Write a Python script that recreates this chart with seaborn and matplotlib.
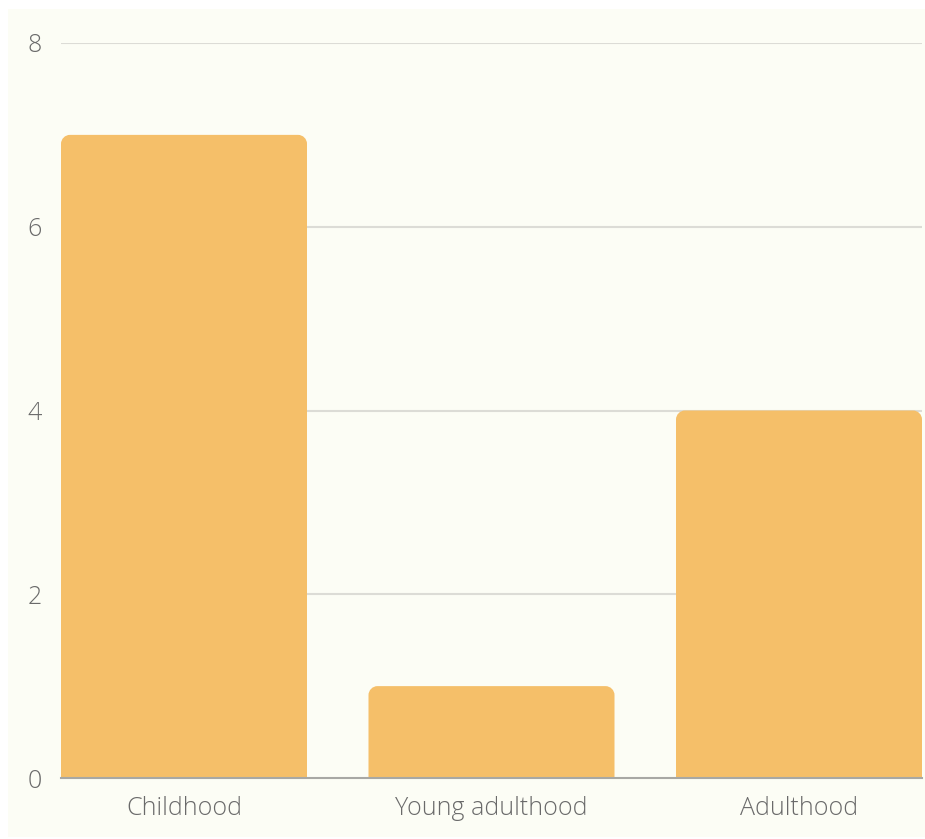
import matplotlib
matplotlib.use("Agg")
import matplotlib.pyplot as plt
import seaborn as sns
import pandas as pd
import numpy as np
from matplotlib.path import Path
from matplotlib.patches import PathPatch, Rectangle

categories = ["Childhood", "Young adulthood", "Adulthood"]
values = [7, 1, 4]
yticks = [0, 2, 4, 6, 8]

sns.set_theme(style="white")
plt.rcParams['font.family'] = ['Open Sans', 'DejaVu Sans']

W, H = 925, 839
fig = plt.figure(figsize=(W / 100, H / 100), dpi=100, facecolor="white")
bg = "#fcfdf5"
fig.patches.append(Rectangle((8 / W, 1 - 837 / H), (W - 8) / W, (837 - 9) / H,
                             transform=fig.transFigure, facecolor=bg, edgecolor="none", zorder=-10))

left, right, top, bottom = 61, 922, 43, 778
ax = fig.add_axes([left / W, 1 - bottom / H, (right - left) / W, (bottom - top) / H])
ax.set_facecolor("none")

df = pd.DataFrame({"stage": categories, "count": values})
sns.barplot(data=df, x="stage", y="count", color="#f5bf69", saturation=1, width=0.8, ax=ax, zorder=3)

ax.set_xlim(-0.4, 2.4)
ax.set_ylim(0, 8)
ax.set_yticks(yticks)
ax.set_yticklabels([str(t) for t in yticks])
ax.set_xlabel("")
ax.set_ylabel("")

# rounded top corners
px_x = (right - left) / 2.8
px_y = (bottom - top) / 8.0
r = 9
rx, ry = r / px_x, r / px_y
k = 0.5523
for p in list(ax.patches):
    x0, y0 = p.get_x(), p.get_y()
    w, h = p.get_width(), p.get_height()
    fc = p.get_facecolor()
    p.set_visible(False)
    x1, y1 = x0 + w, y0 + h
    verts = [
        (x0, y0), (x0, y1 - ry),
        (x0, y1 - ry + k * ry), (x0 + rx - k * rx, y1), (x0 + rx, y1),
        (x1 - rx, y1),
        (x1 - rx + k * rx, y1), (x1, y1 - ry + k * ry), (x1, y1 - ry),
        (x1, y0), (x0, y0),
    ]
    codes = [Path.MOVETO, Path.LINETO,
             Path.CURVE4, Path.CURVE4, Path.CURVE4,
             Path.LINETO,
             Path.CURVE4, Path.CURVE4, Path.CURVE4,
             Path.LINETO, Path.CLOSEPOLY]
    ax.add_patch(PathPatch(Path(verts, codes), facecolor=fc, edgecolor="none", zorder=3))

for t in yticks[1:]:
    ax.axhline(t, color="#dcdcd6", linewidth=1.5, zorder=1)

for s in ["top", "right", "left"]:
    ax.spines[s].set_visible(False)
ax.spines["bottom"].set_color("#a8a8a4")
ax.spines["bottom"].set_linewidth(1.5)
ax.spines["bottom"].set_zorder(4)

ax.tick_params(axis="both", length=0, labelsize=18, labelcolor="#6a6a6a")
ax.tick_params(axis="y", pad=19)
ax.tick_params(axis="x", pad=13)
for lab in ax.get_xticklabels() + ax.get_yticklabels():
    lab.set_fontweight("light")
for lab in ax.get_yticklabels():
    lab.set_horizontalalignment("center")

fig.savefig("out.png", dpi=100, facecolor="white")
